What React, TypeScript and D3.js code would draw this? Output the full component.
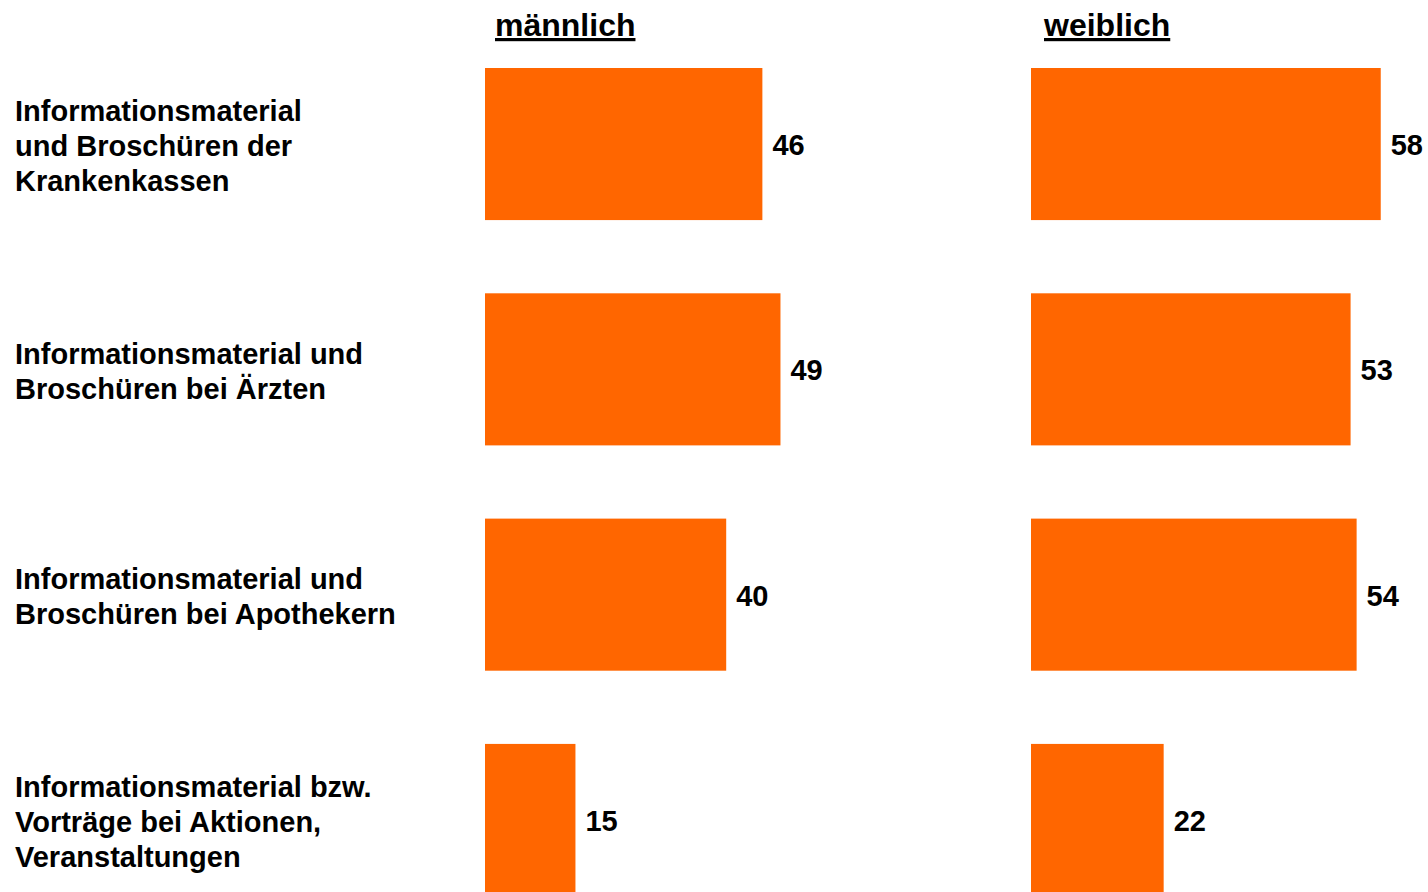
import React, { useEffect, useRef } from "react";
import * as d3 from "d3";

// Kategorien (Zeilen), je Zeile mehrere Textzeilen
const categories = [
  ["Informationsmaterial", "und Broschüren der", "Krankenkassen"],
  ["Informationsmaterial und", "Broschüren bei Ärzten"],
  ["Informationsmaterial und", "Broschüren bei Apothekern"],
  ["Informationsmaterial bzw.", "Vorträge bei Aktionen,", "Veranstaltungen"],
];
const groups = ["männlich", "weiblich"];
const maleValues = [46, 49, 40, 15];
const femaleValues = [58, 53, 54, 22];

const App = () => {
  const svgRef = useRef<SVGSVGElement | null>(null);

  useEffect(() => {
    const width = 1428;
    const height = 892;
    const font = "'Liberation Sans', Arial, sans-serif";
    const barColor = "#ff6600";

    const svg = d3.select(svgRef.current);
    svg.selectAll("*").remove();
    svg.attr("width", width).attr("height", height);

    //y band
    const rowKeys = categories.map((_, i) => String(i));
    const yScale = d3
      .scaleBand()
      .domain(rowKeys)
      .range([68, 896])
      .paddingInner(0.325)
      .paddingOuter(0);

    //x 스케일 (패널마다 같은 단위)
    const xScale = d3.scaleLinear().domain([0, 100]).range([0, 603]);

    const panels = [
      { name: groups[0], x0: 485, values: maleValues, headerX: 495 },
      { name: groups[1], x0: 1031, values: femaleValues, headerX: 1044 },
    ];

    //category labels
    const labels = svg.append("g").attr("class", "labels");
    categories.forEach((lines, i) => {
      const cy = (yScale(String(i)) as number) + yScale.bandwidth() / 2;
      const text = labels
        .append("text")
        .attr("font-family", font)
        .attr("font-weight", "bold")
        .attr("font-size", 29)
        .attr("fill", "#000");
      lines.forEach((line, j) => {
        text
          .append("tspan")
          .attr("x", 15)
          .attr("y", cy + (j - (lines.length - 1) / 2) * 35 + 12)
          .text(line);
      });
    });

    panels.forEach((p) => {
      const g = svg.append("g").attr("transform", `translate(${p.x0},0)`);

      //header
      const header = svg
        .append("text")
        .attr("x", p.headerX)
        .attr("y", 36)
        .attr("font-family", font)
        .attr("font-weight", "bold")
        .attr("font-size", 32)
        .attr("fill", "#000")
        .attr("text-decoration", "underline")
        .text(p.name);
      void header;

      //bars
      g.selectAll("rect")
        .data(p.values)
        .join("rect")
        .attr("x", 0)
        .attr("y", (_, i) => yScale(String(i)) as number)
        .attr("width", (d) => xScale(d))
        .attr("height", yScale.bandwidth())
        .attr("fill", barColor);

      //value labels
      g.selectAll("text.value")
        .data(p.values)
        .join("text")
        .attr("class", "value")
        .attr("x", (d) => xScale(d) + 10)
        .attr("y", (_, i) => (yScale(String(i)) as number) + yScale.bandwidth() / 2 + 11)
        .attr("font-family", font)
        .attr("font-weight", "bold")
        .attr("font-size", 29)
        .attr("fill", "#000")
        .text((d) => d);
    });
  }, []);

  return (
    <svg
      ref={svgRef}
      style={{ position: "absolute", left: 0, top: 0, background: "#fff" }}
    />
  );
};

export default App;
